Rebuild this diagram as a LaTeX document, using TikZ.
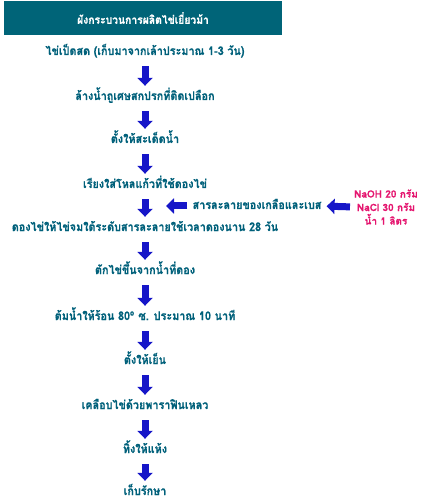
\documentclass[tikz,border=0pt]{standalone}
\usepackage{fontspec}
\newfontfamily\thaifont[Script=Thai, FakeStretch=0.9, BoldFeatures={FakeBold=0.6}]{Loma}
\newfontfamily\thaiplain[Script=Thai, BoldFeatures={FakeBold=0.5}]{Loma}
\usetikzlibrary{arrows.meta}
\definecolor{tealtext}{RGB}{0,96,122}
\definecolor{headfill}{RGB}{0,100,120}
\definecolor{arrowblue}{RGB}{22,22,200}
\definecolor{chempink}{RGB}{228,20,110}
\tikzset{
  stepnode/.style={inner sep=0pt, text height=9pt, text depth=3pt, font=\thaifont\bfseries\fontsize{12}{14}\selectfont, text=tealtext},
  chemnode/.style={inner sep=0pt, align=center, font=\thaiplain\bfseries\fontsize{10}{13.5}\selectfont, text=chempink},
  headnode/.style={fill=headfill, minimum width=278pt, minimum height=34pt, inner sep=0pt, text=white, font=\thaifont\bfseries\fontsize{11.5}{14}\selectfont},
  barrow/.style={draw=arrowblue, line width=7pt, -{Triangle[width=15pt,length=8pt]}, arrowblue},
  vstep/.style={barrow, shorten <=8pt, shorten >=5pt},
}
\begin{document}
\begin{tikzpicture}[x=1pt,y=-1pt]
\useasboundingbox (0,0) rectangle (438,502);
\node[headnode] (head) at (143,18) {ผังกระบวนการผลิตไข่เยี่ยวม้า};
\node[stepnode] (s1) at (145,52) {ไข่เป็ดสด (เก็บมาจากเล้าประมาณ 1-3 วัน)};
\node[stepnode] (s2) at (145,97) {ล้างน้ำถูเศษสกปรกที่ติดเปลือก};
\node[stepnode] (s3) at (145,140) {ตั้งให้สะเด็ดน้ำ};
\node[stepnode] (s4) at (145,185) {เรียงใส่โหลแก้วที่ใช้ดองไข่};
\node[stepnode] (s5) at (145,228) {ดองไข่ให้ไข่จมใต้ระดับสารละลายใช้เวลาดองนาน 28 วัน};
\node[stepnode] (s6) at (145,271) {ตักไข่ขึ้นจากน้ำที่ดอง};
\node[stepnode] (s7) at (145,317) {ต้มน้ำให้ร้อน 80\textsuperscript{o} ซ. ประมาณ 10 นาที};
\node[stepnode] (s8) at (145,361) {ตั้งให้เย็น};
\node[stepnode] (s9) at (145,406) {เคลือบไข่ด้วยพาราฟินเหลว};
\node[stepnode] (s10) at (145,450) {ทิ้งให้แห้ง};
\node[stepnode] (s11) at (145,492) {เก็บรักษา};
\node[stepnode] (sol) at (257,206) {สารละลายของเกลือและเบส};
\node[chemnode] (chem) at (386,207) {NaOH 20 กรัม\\NaCl 30 กรัม\\น้ำ 1 ลิตร};
\coordinate (solin) at (166,206);
\foreach \a/\b in {s1/s2,s2/s3,s3/s4,s4/s5,s5/s6,s6/s7,s7/s8,s8/s9,s9/s10,s10/s11}
  \draw[vstep] (\a.south) -- (\b.north);
\draw[barrow, shorten <=5pt] (sol.west) -- (solin);
\draw[barrow, shorten <=4pt, shorten >=5pt] (chem.west) -- (sol.east);
\end{tikzpicture}
\end{document}
